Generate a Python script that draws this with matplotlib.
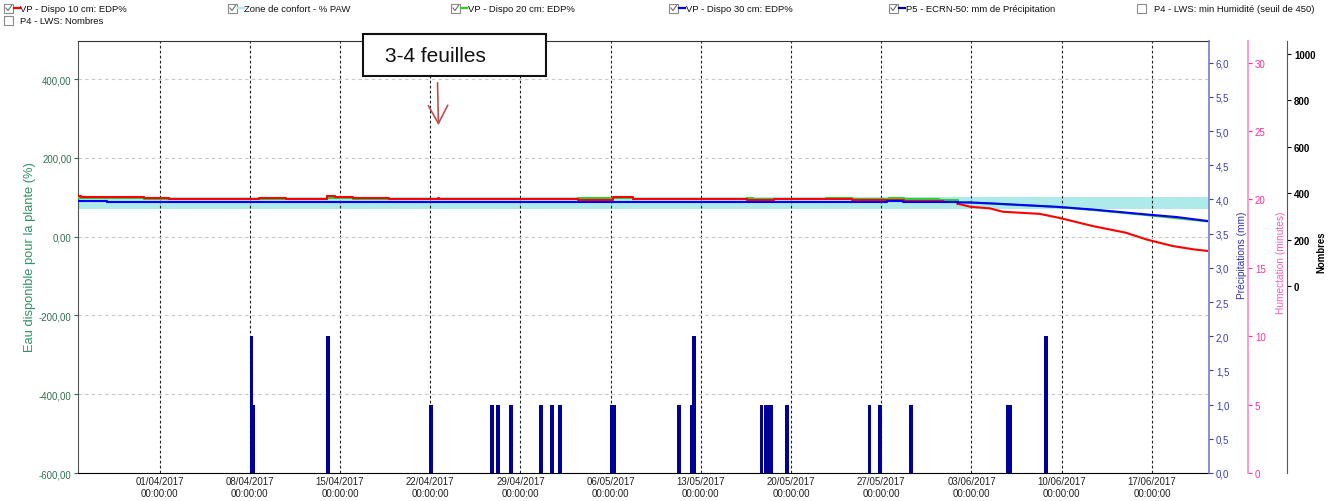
import matplotlib
matplotlib.use('Agg')
import matplotlib.pyplot as plt
import matplotlib.dates as mdates
import pandas as pd
from matplotlib.ticker import FuncFormatter, FixedLocator
from matplotlib.lines import Line2D
from matplotlib.patches import Rectangle, FancyArrowPatch

plt.rcParams['font.family'] = ['Liberation Sans', 'DejaVu Sans']

# ---------------- data ----------------
x_range = ['2017-03-25 16:00', '2017-06-21 10:20']
week_ticks = ['2017-04-01', '2017-04-08', '2017-04-15', '2017-04-22', '2017-04-29',
              '2017-05-06', '2017-05-13', '2017-05-20', '2017-05-27', '2017-06-03',
              '2017-06-10', '2017-06-17']

zone_low = 70
zone_high = 100

red_step_dates = ['2017-03-25 16:00', '2017-03-25 22:00', '2017-03-27 19:00', '2017-03-30 19:00',
                  '2017-04-01 17:00', '2017-04-04 00:00', '2017-04-08 17:00', '2017-04-10 19:00',
                  '2017-04-14 00:00', '2017-04-14 14:00', '2017-04-14 22:00', '2017-04-16 00:00',
                  '2017-04-18 19:00', '2017-04-22 14:00', '2017-04-22 17:00', '2017-04-24 17:00',
                  '2017-05-03 12:00', '2017-05-06 05:00', '2017-05-07 17:00', '2017-05-08 17:00',
                  '2017-05-16 14:00', '2017-05-18 17:00', '2017-05-22 17:00', '2017-05-24 17:00',
                  '2017-05-27 14:00', '2017-05-28 19:00', '2017-05-31 19:00', '2017-06-01 22:00']
red_step_vals = [104, 102, 100.5, 98, 97, 95.5, 98, 96, 104, 102, 100.5, 98,
                 95.5, 98, 95.5, 95, 94, 100.5, 96.5, 95, 94, 95, 95.5, 92,
                 94, 91.5, 88, 84]
red_slope_dates = ['2017-06-01 22:00', '2017-06-02 22:00', '2017-06-04 10:00', '2017-06-05 10:00',
                   '2017-06-08 07:00', '2017-06-09 19:00', '2017-06-12 10:00', '2017-06-15 00:00',
                   '2017-06-16 14:00', '2017-06-18 14:00', '2017-06-20 05:00', '2017-06-21 07:00']
red_slope_vals = [84, 76, 72, 63.5, 58, 48, 27, 10, -7, -23.5, -32, -36]

green_step_dates = ['2017-03-25 16:00', '2017-03-30 19:00', '2017-04-04 00:00', '2017-04-08 17:00',
                    '2017-04-14 00:00', '2017-04-16 00:00', '2017-04-18 19:00', '2017-04-24 17:00',
                    '2017-05-03 12:00', '2017-05-06 05:00', '2017-05-07 17:00', '2017-05-08 17:00',
                    '2017-05-16 14:00', '2017-05-17 02:00', '2017-05-22 17:00', '2017-05-24 17:00',
                    '2017-05-27 14:00', '2017-05-28 19:00', '2017-05-31 12:00', '2017-06-01 22:00']
green_step_vals = [97.5, 96.5, 95.5, 96.5, 97.5, 96.5, 95.5, 96.5, 98, 99.5, 96.5, 96,
                   99.5, 96, 99.5, 95.5, 99.5, 97, 93, 88]
green_slope_dates = ['2017-06-01 22:00', '2017-06-02 20:00', '2017-06-04 14:00', '2017-06-09 14:00',
                     '2017-06-12 10:00', '2017-06-16 14:00', '2017-06-21 07:00']
green_slope_vals = [88, 87, 84, 75.5, 68, 55, 39]

blue_step_dates = ['2017-03-25 16:00', '2017-03-27 22:00', '2017-05-27 10:00', '2017-05-28 17:00',
                   '2017-06-01 22:00']
blue_step_vals = [89.5, 87, 89.5, 87, 87]
blue_slope_dates = ['2017-06-01 22:00', '2017-06-02 20:00', '2017-06-04 14:00', '2017-06-09 14:00',
                    '2017-06-12 10:00', '2017-06-16 14:00', '2017-06-18 22:00', '2017-06-21 07:00']
blue_slope_vals = [87, 87, 84.5, 76, 69, 56.5, 50, 40]

rain_dates = ['2017-04-08 03:00', '2017-04-08 06:00', '2017-04-14 01:30', '2017-04-22 02:00',
              '2017-04-26 19:00', '2017-04-27 05:30', '2017-04-28 07:00', '2017-04-30 14:00',
              '2017-05-01 10:00', '2017-05-02 02:00', '2017-05-06 02:00', '2017-05-06 07:00',
              '2017-05-11 07:00', '2017-05-12 07:00', '2017-05-12 11:00', '2017-05-17 17:00',
              '2017-05-18 02:00', '2017-05-18 07:00', '2017-05-18 11:00', '2017-05-19 17:00',
              '2017-05-26 02:00', '2017-05-26 22:00', '2017-05-29 07:00', '2017-06-05 19:00',
              '2017-06-06 00:00', '2017-06-08 19:00']
rain_mm = [2.0, 1.0, 2.0, 1.0, 1.0, 1.0, 1.0, 1.0, 1.0, 1.0, 1.0, 1.0,
           1.0, 1.0, 2.0, 1.0, 1.0, 1.0, 1.0, 1.0, 1.0, 1.0, 1.0, 1.0, 1.0, 2.0]

left_ticks = [-600, -400, -200, 0, 200, 400]
precip_ticks = [0, 0.5, 1, 1.5, 2, 2.5, 3, 3.5, 4, 4.5, 5, 5.5, 6]
humect_ticks = [0, 5, 10, 15, 20, 25, 30]
nombres_ticks = [0, 200, 400, 600, 800, 1000]

legend_items = [
    ("VP - Dispo 10 cm: EDP%", '#ff0000', True),
    ("Zone de confort - % PAW", '#aeeaea', True),
    ("VP - Dispo 20 cm: EDP%", '#33cc33', True),
    ("VP - Dispo 30 cm: EDP%", '#0000ff', True),
    ("P5 - ECRN-50: mm de Précipitation", '#000099', True),
    ("P4 - LWS: min Humidité (seuil de 450)", None, False),
    ("P4 - LWS: Nombres", None, False),
]

annotation_text = "3-4 feuilles"


def to_num(lst):
    return mdates.date2num(pd.to_datetime(lst).to_pydatetime())


# ---------------- figure ----------------
W, H = 1333, 502
fig = plt.figure(figsize=(W / 100, H / 100), dpi=100)


def fx(px):
    return px / W


def fy(py):
    return 1 - py / H


AX_L, AX_R, AX_T, AX_B = 78, 1209, 42, 474
ax = fig.add_axes([fx(AX_L), fy(AX_B), fx(AX_R) - fx(AX_L), fy(AX_T) - fy(AX_B)])

xlim = to_num(x_range)
ax.set_xlim(xlim)
ax.set_ylim(-600, 497)

# comfort zone band
ax.fill_between(xlim, [zone_low] * 2, [zone_high] * 2, color='#aeeaea', lw=0, zorder=1)

# grid
ax.set_yticks(left_ticks)
ax.set_xticks(to_num(week_ticks))
ax.grid(axis='y', color='#c8c8c8', linestyle=(0, (3, 3)), linewidth=0.8)
ax.grid(axis='x', color='#222222', linestyle=(0, (2.5, 2)), linewidth=0.8)

# water lines
lw = 1.5
ax.step(to_num(green_step_dates), green_step_vals, where='post', color='#33cc33', lw=lw, zorder=3.0)
ax.plot(to_num(green_slope_dates), green_slope_vals, color='#33cc33', lw=lw, zorder=3.0)
ax.step(to_num(red_step_dates), red_step_vals, where='post', color='#ff0000', lw=lw, zorder=3.1)
ax.plot(to_num(red_slope_dates), red_slope_vals, color='#ff0000', lw=lw, zorder=3.1)
ax.step(to_num(blue_step_dates), blue_step_vals, where='post', color='#0000ff', lw=lw, zorder=3.2)
ax.plot(to_num(blue_slope_dates), blue_slope_vals, color='#0000ff', lw=lw, zorder=3.2)

# left axis styling
ax.yaxis.set_major_formatter(FuncFormatter(lambda v, p: f"{v:.2f}".replace('.', ',')))
ax.tick_params(axis='y', colors='#2f7050', labelsize=6.9, length=3, width=0.8, pad=1.5)
ax.xaxis.set_major_formatter(mdates.DateFormatter('%d/%m/%Y\n%H:%M:%S'))
ax.tick_params(axis='x', colors='#222222', labelsize=7, length=0, pad=2.5)
for lab in ax.get_xticklabels():
    lab.set_linespacing(1.25)
ax.spines['left'].set_color('#555555')
ax.spines['bottom'].set_color('#000000')
ax.spines['top'].set_color('#333333')
ax.spines['right'].set_visible(False)

# precipitation axis
axp = ax.twinx()
axp.set_ylim(0, 6.316)
axp.bar(to_num(rain_dates), rain_mm, width=0.3, color='#000099', lw=0, zorder=3)
axp.yaxis.set_major_locator(FixedLocator(precip_ticks))
axp.yaxis.set_major_formatter(FuncFormatter(lambda v, p: f"{v:.1f}".replace('.', ',')))
axp.tick_params(axis='y', colors='#3c3cb0', labelsize=7, length=3, width=0.8, pad=2)
for s in ['left', 'top', 'bottom']:
    axp.spines[s].set_visible(False)
axp.spines['right'].set_color('#7878d8')
axp.spines['right'].set_linewidth(1.2)

# humectation axis
axh = ax.twinx()
axh.set_ylim(0, 31.58)
axh.spines['right'].set_position(('axes', 1 + 39 / (AX_R - AX_L)))
axh.yaxis.set_major_locator(FixedLocator(humect_ticks))
axh.tick_params(axis='y', colors='#ff3399', labelsize=7, length=3, width=0.8, pad=2)
for s in ['left', 'top', 'bottom']:
    axh.spines[s].set_visible(False)
axh.spines['right'].set_color('#ff8ac8')
axh.spines['right'].set_linewidth(1.2)

# nombres axis
axn = ax.twinx()
axn.set_ylim(-803.6, 1054)
axn.spines['right'].set_position(('axes', 1 + 78 / (AX_R - AX_L)))
axn.yaxis.set_major_locator(FixedLocator(nombres_ticks))
axn.tick_params(axis='y', colors='#000000', labelsize=7, length=3, width=0.8, pad=2)
for lab in axn.get_yticklabels():
    lab.set_fontweight('bold')
for s in ['left', 'top', 'bottom']:
    axn.spines[s].set_visible(False)
axn.spines['right'].set_color('#555555')

# axis titles
fig.text(fx(30), fy(257), "Eau disponible pour la plante (%)", rotation=90,
         ha='center', va='center', color='#2e9466', fontsize=9.3)
fig.text(fx(1242), fy(212), "Précipitations (mm)", rotation=90,
         ha='center', va='top', color='#3333aa', fontsize=7.3)
fig.text(fx(1281), fy(212), "Humectation (minutes)", rotation=90,
         ha='center', va='top', color='#ff5fae', fontsize=7.3)
fig.text(fx(1321), fy(252), "Nombres", rotation=90,
         ha='center', va='center', color='#000000', fontsize=6.9, fontweight='bold')

# legend (top)
leg_pos = [(4, 9), (228, 9), (451, 9), (669, 9), (889, 9), (1137, 9), (4, 21)]
for (label, col, checked), (px, py) in zip(legend_items, leg_pos):
    fig.patches.append(Rectangle((fx(px), fy(py + 4.5)), fx(9), 9 / H, transform=fig.transFigure,
                                 facecolor='white', edgecolor='#8a8a8a', lw=0.8))
    if checked:
        fig.lines.append(Line2D([fx(px + 2), fx(px + 4), fx(px + 7.5)],
                                [fy(py), fy(py + 2.5), fy(py - 2.5)],
                                transform=fig.transFigure, color='#707070', lw=0.8))
    if col is not None:
        fig.lines.append(Line2D([fx(px + 10), fx(px + 16)], [fy(py), fy(py)],
                                transform=fig.transFigure, color=col, lw=1.6))
    fig.text(fx(px + 16.5), fy(py), label, ha='left', va='center', fontsize=6.8, color='#111111')

# annotation box and arrow
fig.patches.append(Rectangle((fx(363), fy(77)), fx(546) - fx(363), (77 - 35) / H,
                             transform=fig.transFigure, facecolor='white',
                             edgecolor='#111111', lw=1.5, zorder=10))
fig.text(fx(385), fy(57), annotation_text, ha='left', va='center', fontsize=15,
         color='#111111', zorder=11)
arrow = FancyArrowPatch((fx(437.5), fy(81)), (fx(438.5), fy(129)), transform=fig.transFigure,
                        arrowstyle='->,head_length=0.65,head_width=0.35', mutation_scale=20,
                        color='#c0504d', lw=1.2, zorder=10)
fig.patches.append(arrow)

fig.savefig('out.png', dpi=100)
